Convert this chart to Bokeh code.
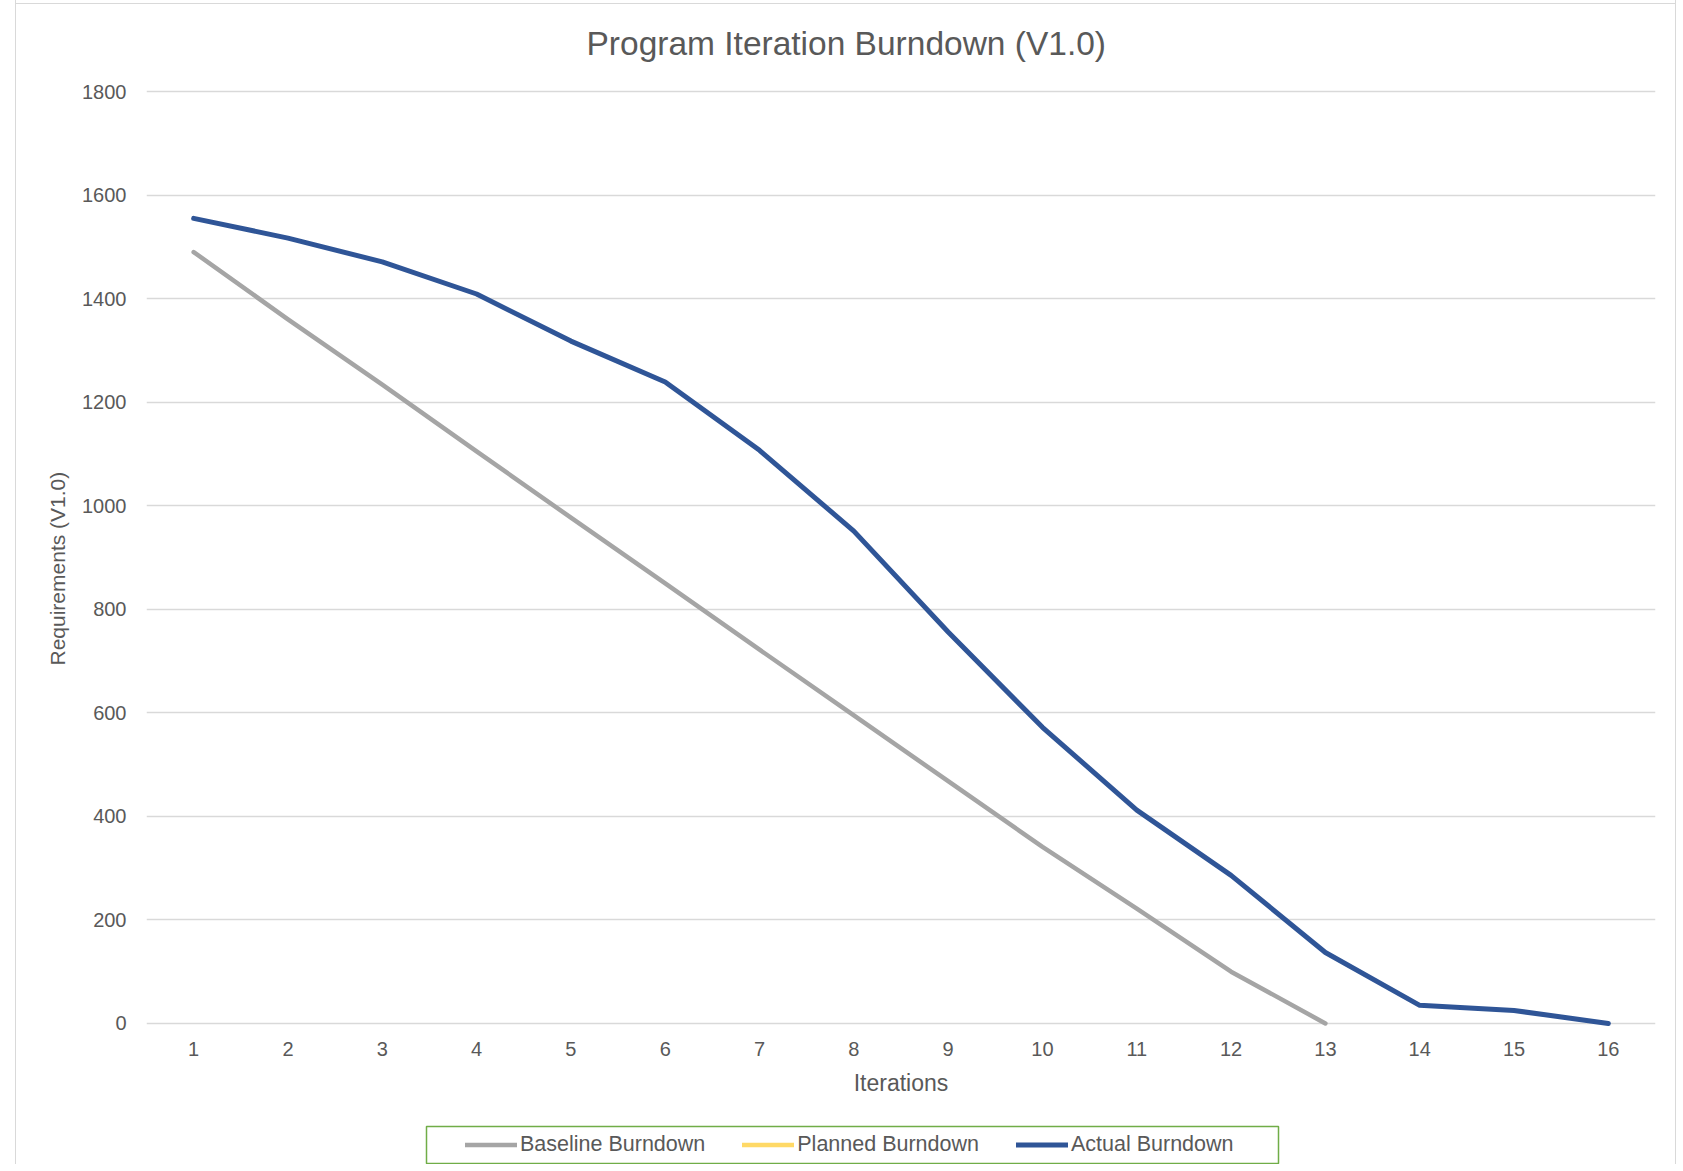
from bokeh.plotting import figure
from bokeh.models import Range1d, FixedTicker, Legend, LegendItem, BoxAnnotation, Title
from bokeh.core.properties import value
from bokeh.embed import file_html
from bokeh.resources import INLINE

# ---- data ----
iterations = list(range(1, 17))
iteration_labels = [str(i) for i in iterations]
baseline_x = list(range(1, 14))
baseline = [1490, 1360, 1234, 1105, 977, 850, 722, 595, 468, 341, 222, 100, 0]
planned_x = [1]
planned = [float("nan")]          # series present in legend, no values plotted
actual = [1555, 1517, 1471, 1409, 1318, 1239, 1107, 951, 756, 572, 412, 286, 137, 35, 25, 0]
y_ticks = [0, 200, 400, 600, 800, 1000, 1200, 1400, 1600, 1800]

FONT = "Liberation Sans"
TXT = "#595959"

p = figure(width=1661, height=1168, output_backend="svg", toolbar_location=None,
           x_range=Range1d(0.5, 16.5), y_range=Range1d(-274.4, 1804),
           min_border_left=130, min_border_right=22, min_border_top=92, min_border_bottom=0)
p.background_fill_color = None
p.border_fill_color = None
p.styles = {"margin-left": "15px", "margin-top": "-4px",
            "border-left": "1px solid #D9D9D9", "border-top": "1px solid #D9D9D9",
            "border-right": "1px solid #D9D9D9",
            "background-color": "white",
            "background-image": "linear-gradient(#D9D9D9, #D9D9D9)",
            "background-size": "100% 1px",
            "background-position": "0px 6px",
            "background-repeat": "no-repeat"}

p.title.text = "Program Iteration Burndown (V1.0)"
p.title.align = "left"
p.title.offset = 440
p.title.vertical_align = "top"
p.title.standoff = 52
p.title.text_font = FONT
p.title.text_font_size = "33.5px"
p.title.text_font_style = "normal"
p.title.text_color = TXT

p.outline_line_color = None
p.xgrid.visible = False
p.ygrid.ticker = FixedTicker(ticks=y_ticks)
p.ygrid.grid_line_color = "#D9D9D9"
p.ygrid.grid_line_width = 1.5

# x axis: tick labels and title drawn at the value-axis zero line
p.xaxis.visible = False
p.text(x=iterations, y=[0] * len(iterations), text=iteration_labels,
       text_font=value(FONT), text_font_size="20px", text_color=TXT,
       text_align="center", text_baseline="alphabetic", y_offset=26)
p.text(x=[8.5], y=[0], text=["Iterations"],
       text_font=value(FONT), text_font_size="23px", text_color=TXT,
       text_align="center", text_baseline="alphabetic", y_offset=60)

p.yaxis.ticker = FixedTicker(ticks=y_ticks)
ax = p.yaxis
ax.axis_line_color = None
ax.major_tick_line_color = None
ax.minor_tick_line_color = None
ax.major_tick_out = 0
ax.major_tick_in = 0
ax.major_label_text_font = FONT
ax.major_label_text_font_size = "20px"
ax.major_label_text_color = TXT
ax.major_label_standoff = 20

# y-axis title (placed alongside the value axis, centred on the 0-1800 span)
p.add_layout(Title(text="Requirements  (V1.0)", align="left", offset=500,
                   vertical_align="bottom", standoff=21,
                   text_font=FONT, text_font_size="21px", text_font_style="normal",
                   text_color=TXT), "left")

r_base = p.line(baseline_x, baseline, line_color="#A5A5A5", line_width=4.5,
                line_cap="round", line_join="round")
r_plan = p.line(planned_x, planned, line_color="#FFD966", line_width=4.5,
                line_cap="round", line_join="round")
r_act = p.line(iterations, actual, line_color="#2F5597", line_width=5,
               line_cap="round", line_join="round")

# legend frame (screen px relative to plot frame, measured from its bottom-left)
p.add_layout(BoxAnnotation(left=280, right=1132, bottom=2, top=39,
                           left_units="screen", right_units="screen",
                           bottom_units="screen", top_units="screen",
                           fill_alpha=0, line_color="#70AD47", line_width=1.5,
                           line_alpha=1))

legend = Legend(items=[LegendItem(label="Baseline Burndown", renderers=[r_base]),
                       LegendItem(label="Planned Burndown", renderers=[r_plan]),
                       LegendItem(label="Actual Burndown", renderers=[r_act])],
                orientation="horizontal", location=(313, 2), margin=0, padding=6,
                spacing=37, glyph_width=52, glyph_height=21, label_height=21,
                label_standoff=3, label_text_font=FONT, label_text_font_size="21.5px",
                label_text_color=TXT, border_line_alpha=0, background_fill_alpha=0)
p.add_layout(legend)

open("out.html", "w").write(file_html(p, INLINE))
